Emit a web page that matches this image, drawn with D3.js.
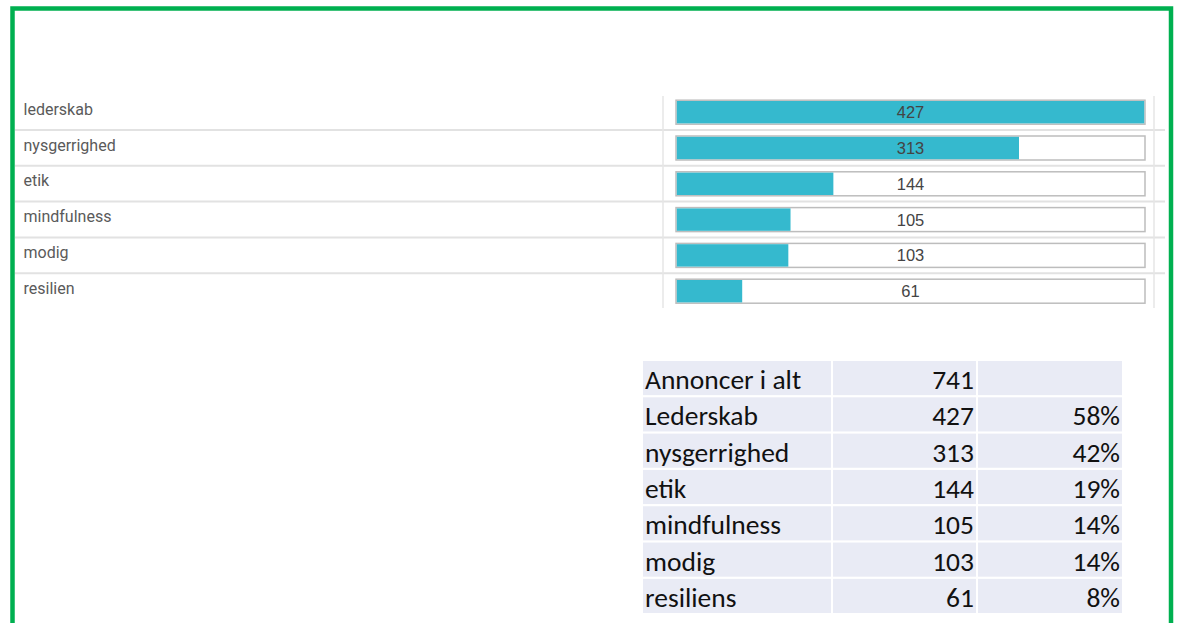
<!DOCTYPE html>
<html lang="da">
<head>
<meta charset="UTF-8"/>
<title>Annoncer</title>
<script src="https://d3js.org/d3.v7.min.js"></script>
<style>
  body { margin: 0; background: white; }
  svg { display: block; }
</style>
</head>
<body>
<script>
// data
var categories = ["lederskab", "nysgerrighed", "etik", "mindfulness", "modig", "resilien"];
var values = [427, 313, 144, 105, 103, 61];

var tableLabels = ["Annoncer i alt", "Lederskab", "nysgerrighed", "etik", "mindfulness", "modig", "resiliens"];
var tableCounts = [741, 427, 313, 144, 105, 103, 61];
var tablePct = ["", "58%", "42%", "19%", "14%", "14%", "8%"];

var w = 1178, h = 623;

var svg = d3.select("body").append("svg")
    .attr("width", w)
    .attr("height", h);

// green frame
svg.append("rect")
    .attr("x", 12.5).attr("y", 8.5)
    .attr("width", 1158.5).attr("height", 640)
    .attr("fill", "none")
    .attr("stroke", "#00b050")
    .attr("stroke-width", 4.5);

// ---- bar list ----
var yScale = d3.scaleBand()
    .domain(categories)
    .range([94.2, 309]);

var xScale = d3.scaleLinear()
    .domain([0, d3.max(values)])
    .range([676, 1145]);

var rows = categories.map(function(c, i) { return { name: c, value: values[i] }; });

// separators between rows
svg.selectAll("line.sep")
    .data(categories.slice(1))
    .enter()
    .append("line")
    .attr("class", "sep")
    .attr("x1", 15).attr("x2", 1165)
    .attr("y1", function(d) { return yScale(d); })
    .attr("y2", function(d) { return yScale(d); })
    .attr("stroke", "#e2e2e2")
    .attr("stroke-width", 2);

// vertical grid lines
svg.selectAll("line.vl")
    .data([663, 1154])
    .enter()
    .append("line")
    .attr("class", "vl")
    .attr("x1", function(d) { return d; })
    .attr("x2", function(d) { return d; })
    .attr("y1", 96).attr("y2", 308)
    .attr("stroke", "#e6e6e6")
    .attr("stroke-width", 1.5);

var g = svg.selectAll("g.row")
    .data(rows)
    .enter()
    .append("g")
    .attr("class", "row")
    .attr("transform", function(d) { return "translate(0," + yScale(d.name) + ")"; });

g.append("text")
    .attr("x", 23.5)
    .attr("y", 20.5)
    .attr("font-family", "Roboto, sans-serif")
    .attr("font-size", "16px")
    .attr("fill", "#5a5a5a")
    .text(function(d) { return d.name; });

// outline box
g.append("rect")
    .attr("x", xScale(0))
    .attr("y", 6)
    .attr("width", xScale(d3.max(values)) - xScale(0))
    .attr("height", 24)
    .attr("fill", "white")
    .attr("stroke", "#bdbdbd")
    .attr("stroke-width", 1.5);

g.append("rect")
    .attr("x", xScale(0) + 0.8)
    .attr("y", 6.8)
    .attr("width", function(d) { return xScale(d.value) - xScale(0) - 1.6; })
    .attr("height", 22.4)
    .attr("fill", "#35b9ce");

g.append("text")
    .attr("x", (xScale.range()[0] + xScale.range()[1]) / 2)
    .attr("y", 24)
    .attr("text-anchor", "middle")
    .attr("font-family", "'Liberation Sans', Arial, sans-serif")
    .attr("font-size", "16.5px")
    .attr("fill", "#444")
    .text(function(d) { return d.value; });

// ---- summary table ----
var colEdges = [[643, 831], [833, 976], [978, 1122]];

var tScale = d3.scaleBand()
    .domain(d3.range(tableLabels.length))
    .range([361, 613])
    .paddingInner(0.06);

var tRows = svg.selectAll("g.trow")
    .data(tableLabels)
    .enter()
    .append("g")
    .attr("class", "trow")
    .attr("transform", function(d, i) { return "translate(0," + tScale(i) + ")"; });

colEdges.forEach(function(c) {
    tRows.append("rect")
        .attr("x", c[0])
        .attr("y", 0)
        .attr("width", c[1] - c[0])
        .attr("height", tScale.bandwidth())
        .attr("fill", "#e9ebf5");
});

var tFont = "Carlito, Calibri, Lato, sans-serif";

tRows.append("text")
    .attr("x", 645)
    .attr("y", 28)
    .attr("font-family", tFont)
    .attr("font-size", "27.5px")
    .attr("fill", "#111")
    .text(function(d) { return d; });

tRows.append("text")
    .attr("x", 974)
    .attr("y", 28)
    .attr("text-anchor", "end")
    .attr("font-family", tFont)
    .attr("font-size", "27.5px")
    .attr("fill", "#111")
    .text(function(d, i) { return tableCounts[i]; });

tRows.append("text")
    .attr("x", 1120)
    .attr("y", 28)
    .attr("text-anchor", "end")
    .attr("font-family", tFont)
    .attr("font-size", "27.5px")
    .attr("fill", "#111")
    .text(function(d, i) { return tablePct[i]; });
</script>
</body>
</html>
